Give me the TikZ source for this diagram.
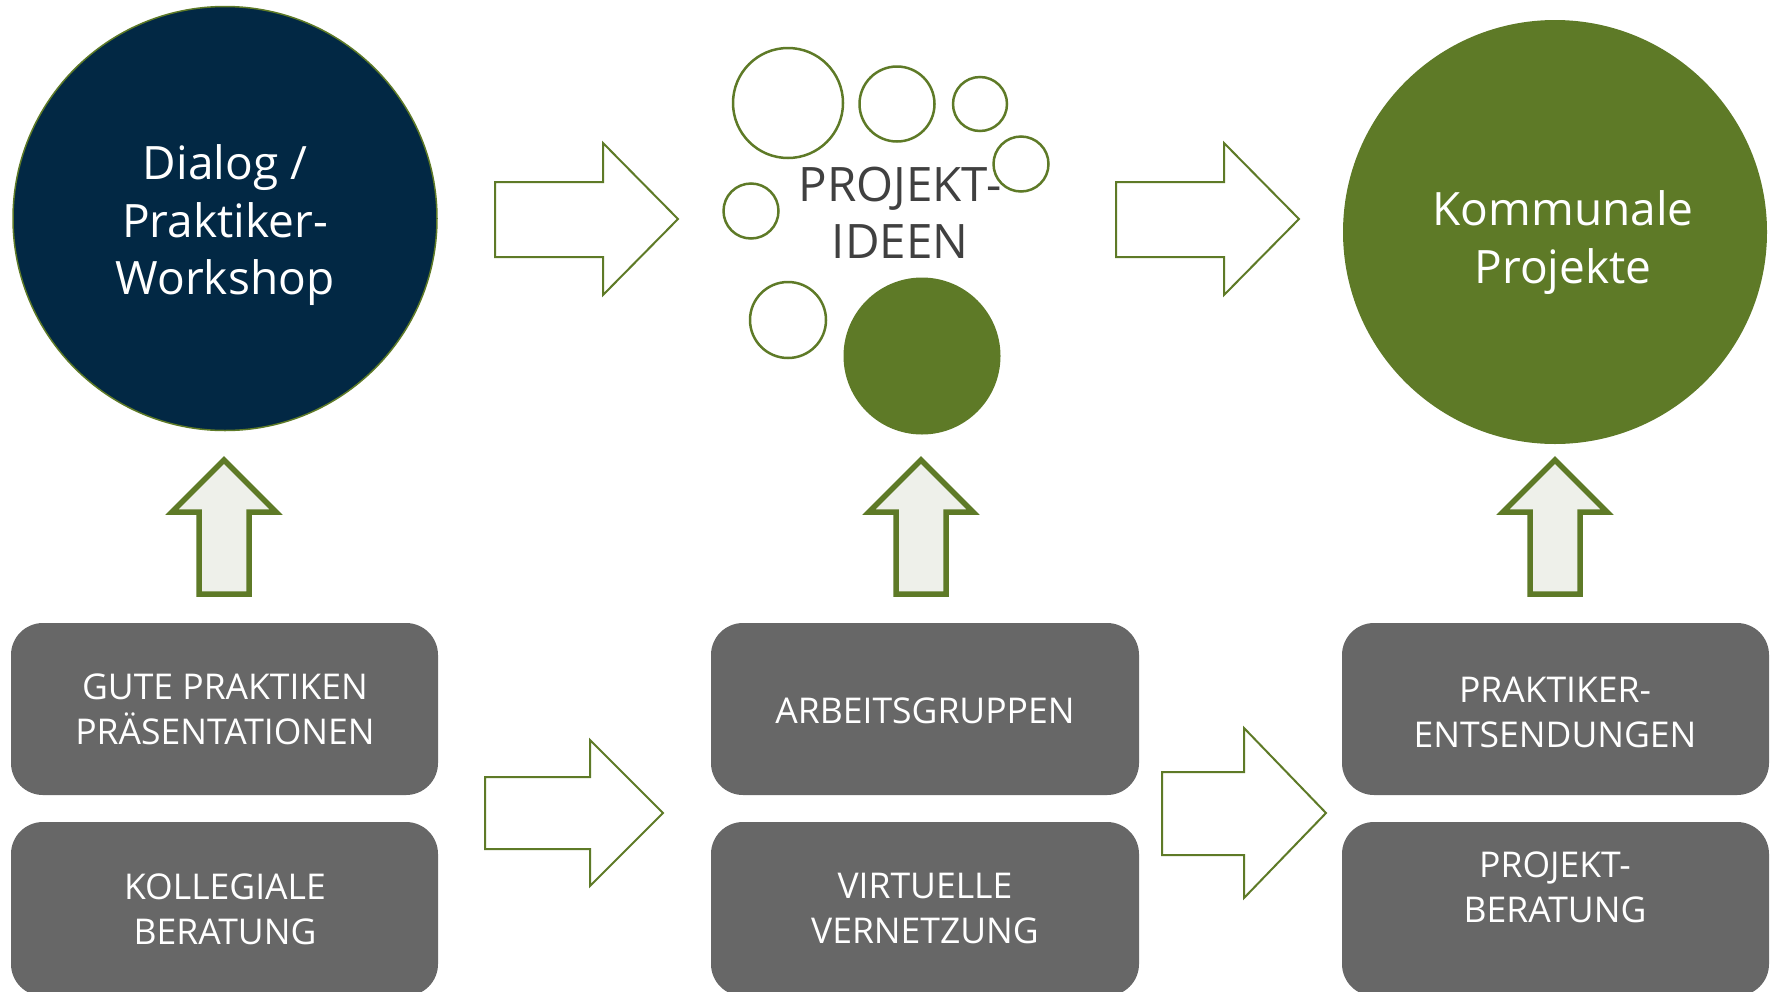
\documentclass[tikz,border=0pt]{standalone}
\usepackage{fontspec}
\setmainfont{Open Sans}
\definecolor{olive}{HTML}{5E7A27}
\definecolor{navy}{HTML}{022844}
\definecolor{boxgray}{HTML}{676767}
\definecolor{palefill}{HTML}{EEF0EA}
\definecolor{darktext}{HTML}{404040}
\tikzset{
  bigtext/.style={align=center, inner sep=0pt, text=white, font=\fontsize{46}{57.5}\selectfont},
  idetext/.style={align=center, inner sep=0pt, text=darktext, font=\fontsize{47.5}{57}\selectfont},
  boxtext/.style={align=center, inner sep=0pt, text=white, font=\fontsize{35.5}{45}\selectfont},
  graybox/.style={fill=boxgray, draw=none, rounded corners=32pt},
  bubble/.style={circle, draw=olive, line width=2.5pt, fill=white, inner sep=0pt},
  blockarrow/.style={draw=olive, line width=2pt, fill=white, line join=miter},
  uparrow/.style={draw=olive, line width=5.5pt, fill=palefill, line join=miter, miter limit=10},
}
\begin{document}
\begin{tikzpicture}[x=1pt, y=-1pt]
\useasboundingbox (0,0) rectangle (1777,991);
\clip (0,0) rectangle (1777,991);

% big circles
\node[circle, fill=navy, draw=olive, line width=1.5pt, minimum size=424pt, inner sep=0pt] (c1) at (225,218.5) {};
\node[bigtext] (t1) at (225,225.3) {Dialog /\\Praktiker-\\Workshop};

\node[circle, fill=olive, draw=none, minimum size=424pt, inner sep=0pt] (c3) at (1555,232) {};
\node[bigtext] (t3) at (1563,242.3) {Kommunale\\Projekte};

% idea bubbles
\node[bubble, minimum size=110pt] (b1) at (788,103) {};
\node[bubble, minimum size=75pt] (b2) at (897,104) {};
\node[bubble, minimum size=54pt] (b3) at (980,104) {};
\node[bubble, minimum size=55pt] (b4) at (1021,164) {};
\node[bubble, minimum size=55pt] (b5) at (751,211) {};
\node[bubble, minimum size=76pt] (b6) at (788,320) {};
\node[circle, fill=olive, draw=none, minimum size=157pt, inner sep=0pt] (b7) at (922,356) {};
\node[idetext] (t2) at (900,212.3) {PROJEKT-\\IDEEN};

% top block arrows
\draw[blockarrow] (495,182) -- (603,182) -- (603,143) -- (678,219) -- (603,295) -- (603,257) -- (495,257) -- cycle;
\draw[blockarrow] (1116,182) -- (1224,182) -- (1224,143) -- (1299,219) -- (1224,295) -- (1224,257) -- (1116,257) -- cycle;

% bottom block arrows
\draw[blockarrow] (485,777) -- (590,777) -- (590,740) -- (663,813) -- (590,886) -- (590,849) -- (485,849) -- cycle;
\draw[blockarrow] (1162,772) -- (1244,772) -- (1244,728) -- (1326,813) -- (1244,898) -- (1244,855) -- (1162,855) -- cycle;

% up arrows
\foreach \cx in {224, 921, 1555}{
  \draw[uparrow] (\cx,460) -- (\cx+52,512) -- (\cx+25,512) -- (\cx+25,594) -- (\cx-25,594) -- (\cx-25,512) -- (\cx-52,512) -- cycle;
}

% gray boxes
\draw[graybox] (11,623) rectangle (438,795);
\draw[graybox] (11,822) rectangle (438,996);
\draw[graybox] (711,623) rectangle (1139,795);
\draw[graybox] (711,822) rectangle (1139,996);
\draw[graybox] (1342,623) rectangle (1769,795);
\draw[graybox] (1342,822) rectangle (1769,996);

\node[boxtext] (g1) at (225,709.7) {GUTE PRAKTIKEN\\PRÄSENTATIONEN};
\node[boxtext] (g2) at (225,909.5) {KOLLEGIALE\\BERATUNG};
\node[boxtext] (g3) at (925,711) {ARBEITSGRUPPEN};
\node[boxtext] (g4) at (925,908.5) {VIRTUELLE\\VERNETZUNG};
\node[boxtext] (g5) at (1555,712) {PRAKTIKER-\\ENTSENDUNGEN};
\node[boxtext] (g6) at (1555,887) {PROJEKT-\\BERATUNG};
\end{tikzpicture}
\end{document}
